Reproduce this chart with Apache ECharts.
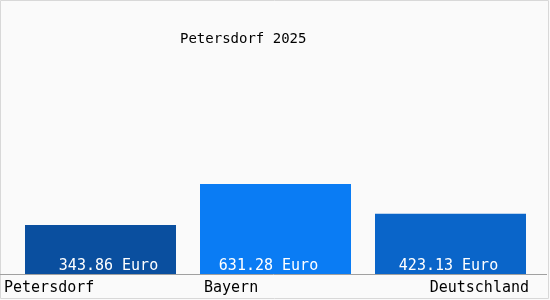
<!DOCTYPE html>
<html><head><meta charset="utf-8">
<script src="https://cdn.jsdelivr.net/npm/echarts@6/dist/echarts.min.js"></script>
<style>html,body{margin:0;padding:0;background:#fff}#c{width:550px;height:300px}</style>
</head><body><div id="c"></div>
<script>
const titleText = 'Petersdorf 2025';
const categories = ['Petersdorf', 'Bayern', 'Deutschland'];
const values = [343.86, 631.28, 423.13];
const unit = 'Euro';

const barColors = ['#0a4f9f', '#0a7cf4', '#0a65c9'];
const labelShift = [8, -7, -2];
const FONT = '"DejaVu Sans Mono", monospace';

const chart = echarts.init(document.getElementById('c'), null, {renderer: 'canvas'});
const option = {
  backgroundColor: '#fafafa',
  animation: false,
  title: {
    text: titleText, left: 180, top: 32, padding: 0,
    textStyle: {fontFamily: FONT, fontSize: 14, fontWeight: 'normal', color: '#000'}
  },
  grid: {left: 13, right: 12, top: 131.5, bottom: 26, containLabel: false},
  xAxis: {
    type: 'category', data: categories,
    axisLine: {show: false}, axisTick: {show: false}, axisLabel: {show: false}
  },
  yAxis: {type: 'value', min: 0, max: 1000, show: false, splitLine: {show: false}},
  series: [{
    type: 'bar', barWidth: 151,
    data: values.map((v, i) => ({
      value: v,
      itemStyle: {color: barColors[i]},
      label: {offset: [labelShift[i], 0]}
    })),
    label: {
      show: true, position: 'insideBottom', distance: 0,
      formatter: p => p.value.toFixed(2) + ' ' + unit,
      fontFamily: FONT, fontSize: 15, color: '#fff'
    }
  }]
};
chart.setOption(option);

const axisY = chart.convertToPixel({gridIndex: 0}, [0, 0])[1];
const catAlign = ['left', 'left', 'right'];
const catX = [4, 204, 529];
const graphics = [
  {type: 'rect', shape: {x: 0.5, y: 0.5, width: 548, height: 298}, style: {fill: 'none', stroke: '#d8d8d8', lineWidth: 1}, silent: true},
  {type: 'line', shape: {x1: 0, y1: Math.round(axisY) + 0.5, x2: 547, y2: Math.round(axisY) + 0.5}, style: {stroke: '#a0a0a0', lineWidth: 1}, z: 10}
];
categories.forEach((c, i) => {
  graphics.push({
    type: 'text', x: catX[i], y: 288.5,
    style: {text: c, fontFamily: FONT, fontSize: 15, fill: '#000', align: catAlign[i], verticalAlign: 'middle'}
  });
});
chart.setOption({graphic: graphics});
</script></body></html>
